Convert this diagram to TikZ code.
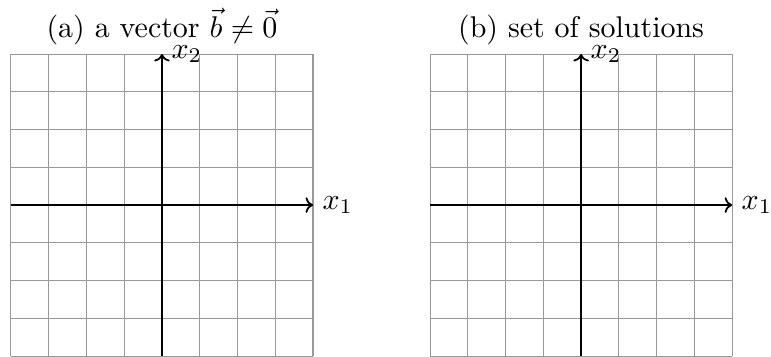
\documentclass[tikz,border=0pt]{standalone}
\usepackage{amsmath,amssymb}
\usepackage{tikz}
\usetikzlibrary{arrows.meta,positioning}

\begin{document}
\begin{tikzpicture}[
  x=0.443cm, y=0.443cm,
  gridline/.style={gray!80, line width=0.35pt, step=0.443cm},
  axis/.style={-{To[scale=0.85]}, line width=0.6pt},
  title/.style={anchor=base, font=\normalsize},
  axlabel/.style={inner sep=3pt}
]
\useasboundingbox (-0.29,0) rectangle (20.13,9.43);

% (a) linkes Raster
\draw[gridline] (0,0) grid (8,8);
\coordinate (aleft) at (0,4);
\coordinate (aright) at (8,4);
\coordinate (abottom) at (4,0);
\coordinate (atop) at (4,8);
\draw[axis] (aleft) -- (aright);
\draw[axis] (abottom) -- (atop);
\node[axlabel, right=0pt of aright] (ax1) {$x_1$};
\node[axlabel, right=0pt of atop] (ax2) {$x_2$};
\node[title] (atitle) at (4,8.45) {(a) a vector $\vec{b}\neq\vec{0}$};

% (b) rechtes Raster
\begin{scope}[xshift=11.1*0.443cm]
\draw[gridline] (0,0) grid (8,8);
\coordinate (bleft) at (0,4);
\coordinate (bright) at (8,4);
\coordinate (bbottom) at (4,0);
\coordinate (btop) at (4,8);
\draw[axis] (bleft) -- (bright);
\draw[axis] (bbottom) -- (btop);
\node[axlabel, right=0pt of bright] (bx1) {$x_1$};
\node[axlabel, right=0pt of btop] (bx2) {$x_2$};
\node[title] (btitle) at (4,8.45) {(b) set of solutions};
\end{scope}

\end{tikzpicture}
\end{document}
